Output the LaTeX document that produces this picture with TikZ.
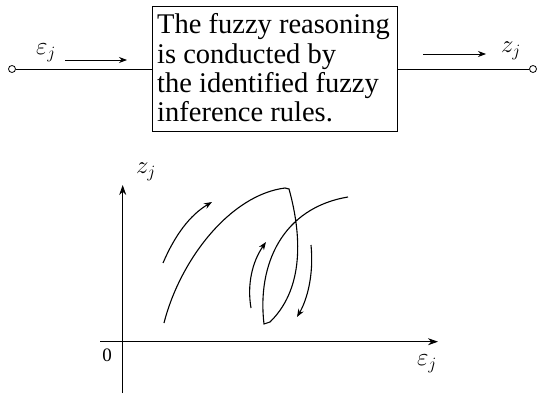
\documentclass[tikz,border=0pt]{standalone}
\usepackage{fontspec}
\setmainfont{Liberation Serif}
\newfontfamily\boxfont{Liberation Serif}
\usetikzlibrary{arrows.meta}
\tikzset{
  port/.style={circle,draw,line width=0.8pt,inner sep=0pt,minimum size=7pt},
  blockbox/.style={draw,line width=1pt,inner sep=0pt},
  txtline/.style={anchor=base west,inner sep=0pt,font=\boxfont\fontsize{28.5}{29.3}\selectfont},
  mlabel/.style={inner sep=0pt,font=\fontsize{24}{28}\selectfont},
  wire/.style={line width=0.9pt},
  sigarrow/.style={line width=0.8pt,-{Stealth[length=8pt,width=6pt]}},
  axis/.style={line width=0.9pt,-{Stealth[length=10pt,width=7pt]}},
  curve/.style={line width=1.1pt},
  dirarrow/.style={line width=1.1pt,-{Stealth[length=8pt,width=6pt]}}
}
\begin{document}
\begin{tikzpicture}[x=1pt,y=-1pt]
\useasboundingbox (0,0) rectangle (546,398);
% block
\node[blockbox,minimum width=245pt,minimum height=125pt] (box) at (274.5,69.5) {};
\node[txtline] (l1) at (157,34) {The fuzzy reasoning};
\node[txtline] (l2) at (157,63.3) {is conducted by};
\node[txtline] (l3) at (157,92.7) {the identified fuzzy};
\node[txtline] (l4) at (157,122) {inference rules.};
% ports
\node[port] (inC) at (12,69) {};
\node[port] (outC) at (533,69) {};
\coordinate (bw) at (box.west |- inC);
\coordinate (be) at (box.east |- outC);
\draw[wire] (inC) -- (bw);
\draw[wire] (be) -- (outC);
% signal labels
\node[mlabel] (eps) at (46,53) {$\varepsilon_j$};
\node[mlabel] (zout) at (511,51) {$z_j$};
\coordinate (ia1) at (65,60);
\coordinate (ia2) at (127,60);
\coordinate (oa1) at (423,54);
\coordinate (oa2) at (486,54);
\draw[sigarrow] (ia1) -- (ia2);
\draw[sigarrow] (oa1) -- (oa2);
% axes
\coordinate (xs) at (100,341.7);
\coordinate (xe) at (438,341.7);
\coordinate (ys) at (122.7,393);
\coordinate (ye) at (122.7,185);
\draw[axis] (xs) -- (xe);
\draw[axis] (ys) -- (ye);
\node[inner sep=0pt,font=\fontsize{19}{22}\selectfont] (zero) at (107,355) {0};
\node[mlabel] (zlab) at (146,172) {$z_j$};
\node[mlabel] (elab) at (427,364) {$\varepsilon_j$};
% hysteresis curve
\draw[curve] (164,323) .. controls (180,260) and (230,195) .. (285,188)
  -- (289,189) .. controls (299,225) and (308,285) .. (270,322)
  -- (264,324) .. controls (257,265) and (282,208) .. (348,197);
% direction arrows
\draw[dirarrow] (163,263) .. controls (175,235) and (190,215) .. (212,202);
\draw[dirarrow] (251,308) .. controls (247,285) and (252,262) .. (266,242);
\draw[dirarrow] (311,245) .. controls (314,275) and (307,300) .. (297,317);
\end{tikzpicture}
\end{document}
